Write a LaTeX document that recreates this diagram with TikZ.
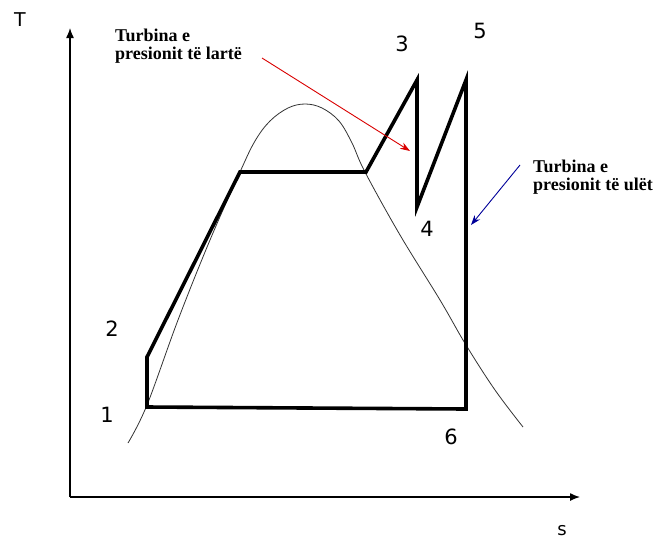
\documentclass[tikz,border=0pt]{standalone}
\usepackage{fontspec}
\setmainfont{Liberation Serif}
\newfontfamily\lblfont{DejaVu Sans}
\usetikzlibrary{arrows.meta}
\begin{document}
\begin{tikzpicture}[x=1pt,y=-1pt,
  axis/.style={line width=1.3pt,-{Latex[length=10pt,width=8pt]}},
  cyc/.style={line width=3.6pt,line join=miter,line cap=butt},
  dome/.style={line width=0.8pt,black!80},
  num/.style={font=\lblfont\fontsize{21}{23}\selectfont,inner sep=0pt},
  note/.style={font=\bfseries\fontsize{18}{18}\selectfont,align=left,inner sep=0pt,anchor=north west},
  pointer/.style={line width=0.9pt,-{Stealth[length=10pt,width=7pt]}}]
\useasboundingbox (0,0) rectangle (660,539);
% axes
\coordinate (O) at (70,497);
\coordinate (Ty) at (70,28);
\coordinate (Sx) at (580,497);
\draw[axis] (O) -- (Ty);
\draw[axis] (O) -- (Sx);
\node[font=\lblfont\fontsize{19}{21}\selectfont] (T) at (20,20) {T};
\node[font=\lblfont\fontsize{18}{20}\selectfont] (s) at (562,531) {s};
% dome
\draw[dome] plot[smooth,tension=0.6] coordinates {(128,443) (147,405) (178,320) (210,240) (240,172) (255,141) (270,121) (288,108) (305,104) (322,108) (339,121) (352,143) (365,172) (400,235) (440,300) (466,345) (495,390) (523,427)};
% cycle points
\coordinate (p1) at (147,407);
\coordinate (p2) at (147,357);
\coordinate (a) at (240,172);
\coordinate (b) at (366,172);
\coordinate (p3) at (417,80);
\coordinate (p4) at (417,207);
\coordinate (p5) at (466,80);
\coordinate (p6) at (466,409);
\draw[cyc] (p1) -- (p2) -- (a) -- (b) -- (p3) -- (p4) -- (p5) -- (p6) -- cycle;
% labels
\node[num] (n1) at (107,415) {1};
\node[num] (n2) at (112,329) {2};
\node[num] (n3) at (402,44) {3};
\node[num] (n4) at (427,229) {4};
\node[num] (n5) at (480,31) {5};
\node[num] (n6) at (451,437) {6};
% notes
\node[note] (hp) at (115,29) {Turbina e\\presionit të lartë};
\node[note] (lp) at (533,160) {Turbina e\\presionit të ulët};
\coordinate (hpend) at (410,151);
\coordinate (hpstart) at (262,58);
\coordinate (lpstart) at (520,165);
\coordinate (lpend) at (471,225);
\draw[pointer,red!85!black] (hpstart) -- (hpend);
\draw[pointer,blue!60!black] (lpstart) -- (lpend);
\end{tikzpicture}
\end{document}
